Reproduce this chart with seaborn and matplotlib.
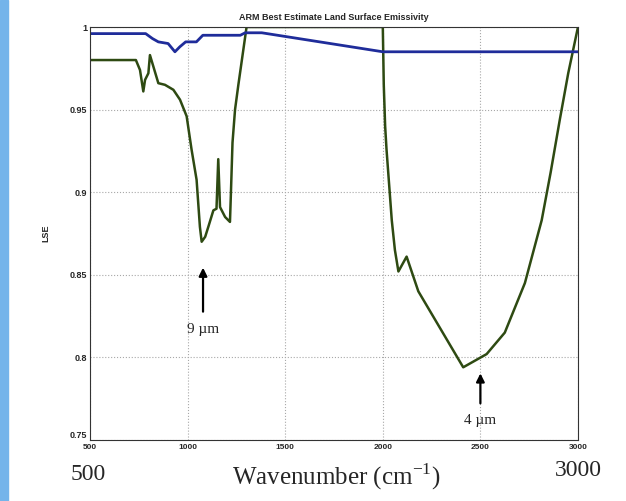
import numpy as np
import pandas as pd
import matplotlib
matplotlib.use("Agg")
import matplotlib.pyplot as plt
import matplotlib.patches as patches
import seaborn as sns

# Broadband emissivity (blue)
blue_wn = [500, 785, 820, 850, 900, 935, 960, 990, 1045, 1078, 1270, 1295, 1380, 2000, 3000]
blue_lse = [0.996, 0.996, 0.993, 0.991, 0.990, 0.985, 0.988, 0.991, 0.991, 0.995,
            0.995, 0.9965, 0.9965, 0.985, 0.985]

# Spectral emissivity (green)
green_wn = [500, 735, 756, 773, 782, 799, 807, 850, 884, 927, 961, 995, 1020, 1046,
            1063, 1072, 1090, 1106, 1132, 1148, 1157, 1166, 1192, 1217, 1222, 1230,
            1243, 1260, 1302, 2000, 2005, 2012, 2019, 2046, 2062, 2080, 2122, 2182,
            2412, 2532, 2625, 2728, 2814, 2860, 2907, 2950, 3000]
green_lse = [0.980, 0.980, 0.974, 0.961, 0.968, 0.972, 0.983, 0.966, 0.965, 0.962,
             0.956, 0.946, 0.926, 0.9075, 0.879, 0.870, 0.873, 0.879, 0.889, 0.890,
             0.920, 0.891, 0.885, 0.882, 0.900, 0.930, 0.950, 0.965, 1.0, 1.0,
             0.965, 0.940, 0.926, 0.883, 0.865, 0.852, 0.861, 0.840, 0.794, 0.802,
             0.815, 0.845, 0.883, 0.912, 0.944, 0.972, 1.0]

x_ticks = [500, 1000, 1500, 2000, 2500, 3000]
y_ticks = [0.75, 0.8, 0.85, 0.9, 0.95, 1]
y_tick_labels = ["0.75", "0.8", "0.85", "0.9", "0.95", "1"]

blue_df = pd.DataFrame({"wn": blue_wn, "lse": blue_lse})
green_df = pd.DataFrame({"wn": green_wn, "lse": green_lse})

sns.set_theme(style="white")
plt.rcParams['font.family'] = ['Liberation Sans', 'DejaVu Sans']

fig = plt.figure(figsize=(6.26, 5.01), dpi=100)
ax = fig.add_axes([0.1438, 0.1218, 0.7795, 0.8243])

sns.lineplot(data=green_df, x="wn", y="lse", ax=ax, color="#2e4a12", lw=1.8,
             estimator=None, sort=False)
sns.lineplot(data=blue_df, x="wn", y="lse", ax=ax, color="#1f2c9a", lw=2.0,
             estimator=None, sort=False)

ax.set_xlim(500, 3000)
ax.set_ylim(0.75, 1.0)
ax.set_xticks(x_ticks)
ax.set_xticklabels([str(t) for t in x_ticks], fontsize=6, fontweight="bold")
ax.set_yticks(y_ticks)
ax.set_yticklabels(y_tick_labels, fontsize=6.5, fontweight="bold")
ax.tick_params(direction="in", length=3, width=0.6, pad=2)
ax.tick_params(axis="x", pad=3)
# the bottom y label sits on the axis line, as in the original
ax.get_yticklabels()[0].set_verticalalignment("bottom")
ax.grid(True, linestyle=":", color="#a8a8a8", lw=0.8)
for s in ax.spines.values():
    s.set_color("#333333")
    s.set_linewidth(0.8)

ax.set_xlabel("")
ax.set_ylabel("LSE", fontsize=6.5, fontweight="bold", labelpad=14)
ax.set_title("ARM Best Estimate Land Surface Emissivity", fontsize=6.5,
             fontweight="bold", pad=5)

# arrows with labels
ax.annotate("", xy=(1079, 0.856), xytext=(1079, 0.826),
            arrowprops=dict(arrowstyle="-|>", color="black", lw=1.6, mutation_scale=12))
ax.text(1079, 0.8166, "9 \u00b5m", ha="center", va="center", fontsize=11,
        family="Liberation Serif")
ax.annotate("", xy=(2500, 0.792), xytext=(2500, 0.7705),
            arrowprops=dict(arrowstyle="-|>", color="black", lw=1.6, mutation_scale=12))
ax.text(2500, 0.762, "4 \u00b5m", ha="center", va="center", fontsize=11,
        family="Liberation Serif")

# large serif axis annotation under the plot
fig.text(88 / 626, 1 - 474 / 501, "500", ha="center", va="center", fontsize=17,
         family="Liberation Serif")
fig.text(336 / 626, 1 - 477 / 501, "Wavenumber (cm$^{\\mathregular{-1}}$)", ha="center",
         va="center", fontsize=18, family="Liberation Serif")
fig.text(578 / 626, 1 - 471 / 501, "3000", ha="center", va="center", fontsize=17,
         family="Liberation Serif")

# blue strip at left edge
fig.patches.append(patches.Rectangle((0, 0), 8 / 626, 1, transform=fig.transFigure,
                                     color="#74b4ea", zorder=0))

fig.savefig("out.png", dpi=100)
